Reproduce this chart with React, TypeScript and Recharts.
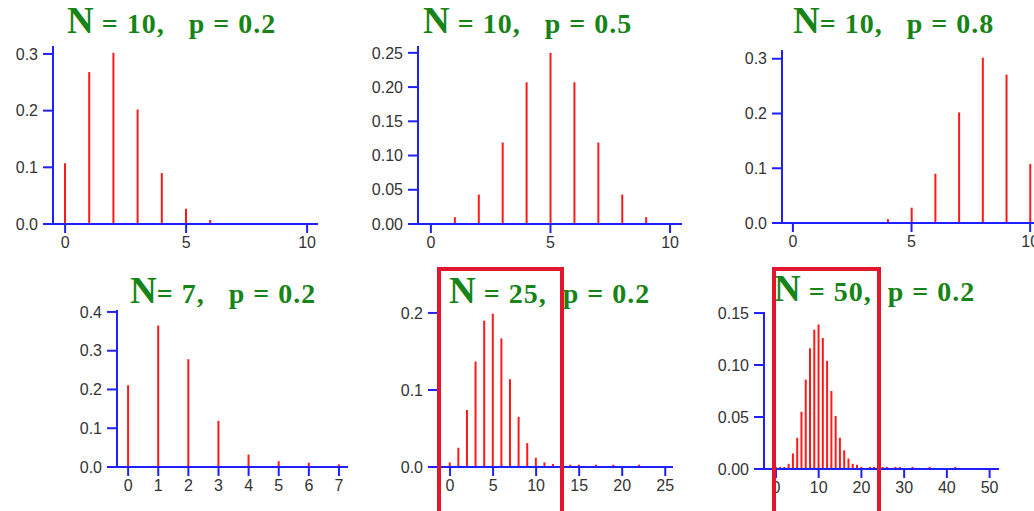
import React from "react";
import { BarChart, Bar, XAxis, YAxis, ReferenceLine } from "recharts";

// outcomes k and their probabilities
const kTen = [0, 1, 2, 3, 4, 5, 6, 7, 8, 9, 10];
const probN10p02 = [0.107, 0.268, 0.302, 0.202, 0.09, 0.027, 0.007, 0, 0, 0, 0];
const probN10p05 = [0, 0.01, 0.043, 0.119, 0.207, 0.25, 0.207, 0.119, 0.043, 0.01, 0];
const probN10p08 = [0, 0, 0, 0, 0.007, 0.028, 0.09, 0.202, 0.302, 0.271, 0.108];

const kSeven = [0, 1, 2, 3, 4, 5, 6, 7];
const probN7p02 = [0.211, 0.365, 0.278, 0.119, 0.032, 0.015, 0.011, 0.007];

const kTwentyFive = [0, 1, 2, 3, 4, 5, 6, 7, 8, 9, 10, 11, 12, 14, 15, 17, 19, 22];
const probN25p02 = [
  0.006, 0.025, 0.074, 0.137, 0.19, 0.199, 0.167, 0.114, 0.065, 0.031, 0.012, 0.006, 0.004,
  0.003, 0.003, 0.003, 0.003, 0.003,
];

const kFifty = [
  0, 1, 2, 3, 4, 5, 6, 7, 8, 9, 10, 11, 12, 13, 14, 15, 16, 17, 18, 19, 20, 22, 23, 25, 26, 28,
  29, 32, 36, 42,
];
const probN50p02 = [
  0.002, 0.002, 0.002, 0.005, 0.015, 0.03, 0.055, 0.086, 0.116, 0.134, 0.139, 0.126, 0.104,
  0.075, 0.051, 0.03, 0.018, 0.01, 0.005, 0.004, 0.002, 0.002, 0.002, 0.002, 0.002, 0.002,
  0.002, 0.002, 0.002, 0.002,
];

// tick labels
const ticksX10 = [0, 5, 10];
const ticksX7 = [0, 1, 2, 3, 4, 5, 6, 7];
const ticksX25 = [0, 5, 10, 15, 20, 25];
const ticksX50 = [0, 10, 20, 30, 40, 50];
const ticksY03 = [0, 0.1, 0.2, 0.3];
const ticksY025 = [0, 0.05, 0.1, 0.15, 0.2, 0.25];
const ticksY04 = [0, 0.1, 0.2, 0.3, 0.4];
const ticksY02 = [0, 0.1, 0.2];
const ticksY015 = [0, 0.05, 0.1, 0.15];

const BLUE = "#2020ff";
const RED = "#ff1a1a";
const GREEN = "#178417";

type PanelProps = {
  ks: number[];
  probs: number[];
  xTicks: number[];
  yTicks: number[];
  digits: number;
  xDomain: [number, number];
  xStart: number;
  yMax: number;
  plot: { l: number; r: number; t: number; b: number };
};

const YW = 60;

function Panel({ ks, probs, xTicks, yTicks, digits, xDomain, xStart, yMax, plot }: PanelProps) {
  const data = ks.map((k, i) => ({ k, v: probs[i] }));
  const w = plot.r - plot.l + YW + 12;
  const h = plot.b - plot.t + 10 + 40;
  const tick = { fill: "#333", fontSize: 16, fontFamily: "Liberation Sans, Arial, sans-serif" };
  return (
    <div style={{ position: "absolute", left: plot.l - YW, top: plot.t - 10 }}>
      <BarChart
        width={w}
        height={h}
        data={data}
        margin={{ top: 10, right: 12, bottom: 10, left: 0 }}
      >
        <XAxis
          dataKey="k"
          type="number"
          domain={xDomain}
          allowDataOverflow
          ticks={xTicks}
          interval={0}
          height={30}
          tickSize={9}
          tickMargin={4}
          axisLine={{ stroke: BLUE, strokeWidth: 2 }}
          tickLine={{ stroke: BLUE, strokeWidth: 2 }}
          tick={tick}
        />
        <YAxis
          type="number"
          domain={[0, yMax]}
          allowDataOverflow
          ticks={yTicks}
          interval={0}
          width={YW}
          tickSize={10}
          tickMargin={5}
          tickFormatter={(v: number) => v.toFixed(digits)}
          axisLine={{ stroke: BLUE, strokeWidth: 2 }}
          tickLine={{ stroke: BLUE, strokeWidth: 2 }}
          tick={tick}
        />
        <ReferenceLine
          segment={[
            { x: xStart, y: 0 },
            { x: xDomain[0], y: 0 },
          ]}
          stroke={BLUE}
          strokeWidth={2}
          ifOverflow="visible"
        />
        <Bar dataKey="v" fill={RED} barSize={2} isAnimationActive={false} />
      </BarChart>
    </div>
  );
}

function Title({ x, y, n, rest }: { x: number; y: number; n: string; rest: string }) {
  return (
    <div
      style={{
        position: "absolute",
        left: x,
        top: y,
        lineHeight: "36px",
        whiteSpace: "pre",
        fontFamily: "Liberation Serif, Times New Roman, serif",
        fontWeight: "bold",
        color: GREEN,
      }}
    >
      <span style={{ fontSize: 37 }}>{n}</span>
      <span style={{ fontSize: 28, letterSpacing: 1 }}>{rest}</span>
    </div>
  );
}

function Box({ l, r, t }: { l: number; r: number; t: number }) {
  return (
    <div
      style={{
        position: "absolute",
        left: l,
        top: t,
        width: r - l - 8,
        height: 300,
        border: "4px solid #e3162d",
      }}
    />
  );
}

export default function App() {
  return (
    <div
      style={{
        position: "absolute",
        left: 0,
        top: 0,
        width: 1034,
        height: 511,
        overflow: "hidden",
        background: "#fff",
      }}
    >
      <Panel
        ks={kTen}
        probs={probN10p02}
        xTicks={ticksX10}
        yTicks={ticksY03}
        digits={1}
        xDomain={[-0.5, 10.45]}
        xStart={-0.91}
        yMax={0.314}
        plot={{ l: 53, r: 318, t: 46, b: 224 }}
      />
      <Panel
        ks={kTen}
        probs={probN10p05}
        xTicks={ticksX10}
        yTicks={ticksY025}
        digits={2}
        xDomain={[-0.54, 10.5]}
        xStart={-0.92}
        yMax={0.26}
        plot={{ l: 418, r: 682, t: 46, b: 224 }}
      />
      <Panel
        ks={kTen}
        probs={probN10p08}
        xTicks={ticksX10}
        yTicks={ticksY03}
        digits={1}
        xDomain={[-0.46, 10.5]}
        xStart={-0.84}
        yMax={0.316}
        plot={{ l: 782, r: 1042, t: 50, b: 223 }}
      />
      <Panel
        ks={kSeven}
        probs={probN7p02}
        xTicks={ticksX7}
        yTicks={ticksY04}
        digits={1}
        xDomain={[-0.37, 7.3]}
        xStart={-0.7}
        yMax={0.405}
        plot={{ l: 117, r: 348, t: 310, b: 467 }}
      />
      <Panel
        ks={kTwentyFive}
        probs={probN25p02}
        xTicks={ticksX25}
        yTicks={ticksY02}
        digits={1}
        xDomain={[-1.4, 25.9]}
        xStart={-2}
        yMax={0.209}
        plot={{ l: 438, r: 673, t: 306, b: 467 }}
      />
      <Panel
        ks={kFifty}
        probs={probN50p02}
        xTicks={ticksX50}
        yTicks={ticksY015}
        digits={2}
        xDomain={[-2.8, 52.2]}
        xStart={-4.4}
        yMax={0.151}
        plot={{ l: 764, r: 999, t: 312, b: 469 }}
      />

      <Title x={67} y={3} n="N" rest={" = 10,   p = 0.2"} />
      <Title x={423} y={3} n="N" rest={" = 10,   p = 0.5"} />
      <Title x={793} y={3} n="N" rest={"= 10,   p = 0.8"} />
      <Title x={130} y={273} n="N" rest={"= 7,   p = 0.2"} />
      <Title x={449} y={273} n="N" rest={" = 25,  p = 0.2"} />
      <Title x={774} y={271} n="N" rest={" = 50,  p = 0.2"} />

      <Box l={437} r={564} t={267} />
      <Box l={772} r={881} t={267} />
    </div>
  );
}
